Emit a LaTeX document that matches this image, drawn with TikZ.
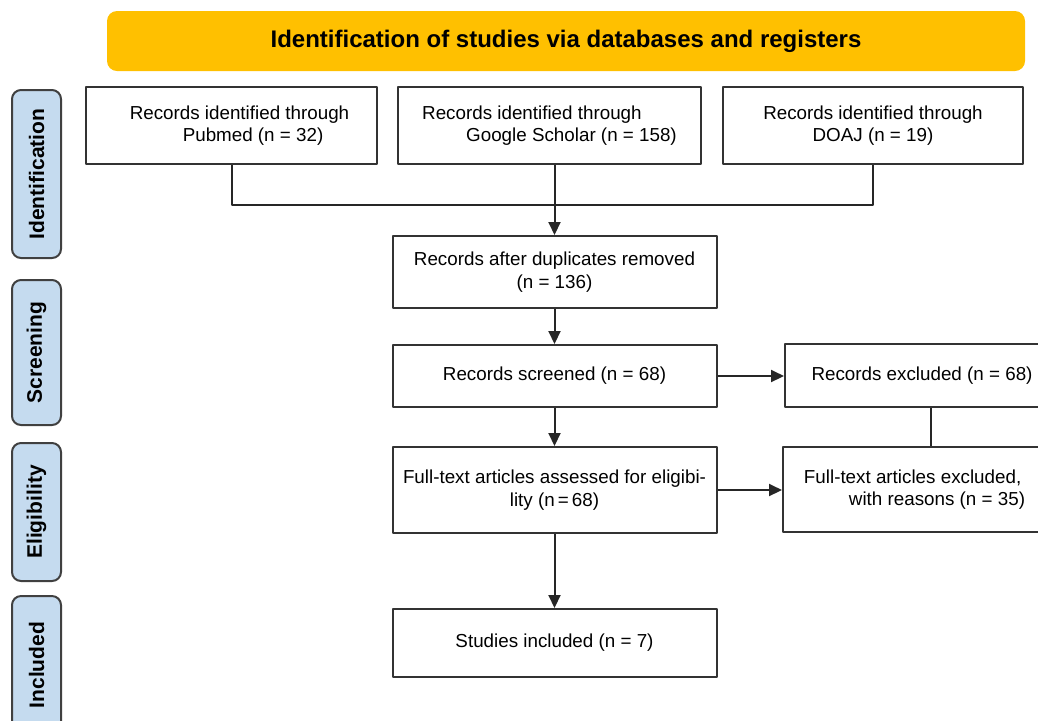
\documentclass[tikz,border=0pt]{standalone}
\usepackage{fontspec}
\setmainfont{Liberation Sans}
\usetikzlibrary{arrows.meta}
\definecolor{titlegold}{RGB}{255,192,0}
\definecolor{phaseblue}{RGB}{197,219,239}
\begin{document}
\begin{tikzpicture}[x=0.5pt,y=-0.5pt,line join=round,>={Triangle[length=6.5pt,width=6pt]},font=\fontsize{9.4}{11.2}\selectfont]
	\tikzset{box/.style 2 args={draw=black!80,line width=1pt,minimum width=#1*0.5pt,minimum height=#2*0.5pt,inner sep=0pt},
		phase/.style={draw=black!75,fill=phaseblue,line width=1pt,rounded corners=4.5pt,rotate=90,minimum height=24.5pt,inner sep=0pt,font=\fontsize{10.5}{12}\selectfont\bfseries},
		link/.style={line width=1pt,black!85}}
	\clip (0,0) rectangle (1038,720);
	% heading bar
	\node[fill=titlegold,rounded corners=5pt,minimum width=459pt,minimum height=30pt,font=\fontsize{12}{14}\selectfont\bfseries] (title) at (566,41) {Identification of studies via databases and registers};
	% phases on the left
	\foreach \nm/\yc/\len/\txt in {ident/174/168/Identification,screen/352.5/145/Screening,elig/512/138/Eligibility,incl/665/138/Included}
	\node[phase,minimum width=\len*0.5pt] (\nm) at (36.5,\yc) {\txt};
	% sources
	\node[box={291}{77},align=left] (pubmed) at (231.5,125.5) {\hspace*{8pt}Records identified through\\\hspace*{34.5pt}Pubmed (n = 32)};
	\node[box={303}{77},align=left] (scholar) at (549.5,125.5) {Records identified through\\\hspace*{22pt}Google Scholar (n = 158)};
	\node[box={300}{77},align=center] (doaj) at (873,125.5) {Records identified through\\DOAJ (n = 19)};
	% main column
	\node[box={324}{72},align=center] (dup) at (554.5,272) {Records after duplicates removed\\(n = 136)};
	\node[box={324}{62}] (screened) at (554.5,376) {Records screened (n = 68)};
	\node[box={324}{86},align=center] (assessed) at (554.5,490) {Full-text articles assessed for eligibi-\\lity (n\,=\,68)};
	\node[box={324}{68}] (included) at (554.5,643) {Studies included (n = 7)};
	% exclusions
	\node[box={274}{63}] (excluded) at (922,375.5) {Records excluded (n = 68)};
	\node[box={263}{85},align=left] (ftexcl) at (914.5,489.5) {Full-text articles excluded,\\\hspace*{22.5pt}with reasons (n = 35)};
	% connectors
	\coordinate (bus) at (554.5,205);
	\draw[link] (pubmed.south) |- (bus) -| (doaj.south);
	\draw[link,->] (scholar.south -| dup.north) -- (dup.north);
	\draw[link,->] (dup) -- (screened);
	\draw[link,->] (screened) -- (assessed);
	\draw[link,->] (assessed) -- (included);
	\draw[link,->] (screened.east) -- (screened.east -| excluded.west);
	\draw[link,->] (assessed.east) -- (assessed.east -| ftexcl.west);
	\draw[link] ([xshift=4.5pt]excluded.south) -- ([xshift=4.5pt]excluded.south |- ftexcl.north);
\end{tikzpicture}
\end{document}
